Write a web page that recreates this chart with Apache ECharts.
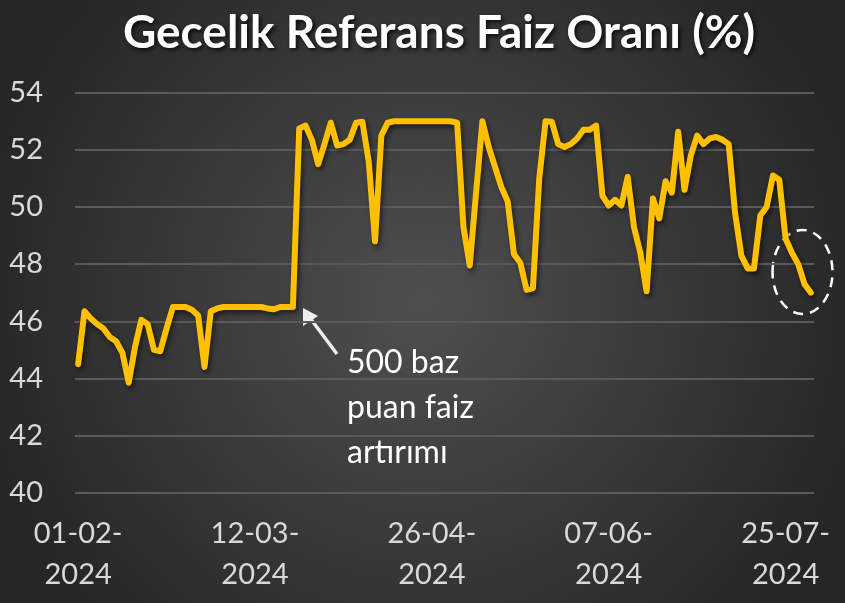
<!DOCTYPE html>
<html>
<head>
<meta charset="utf-8">
<script src="https://cdn.jsdelivr.net/npm/echarts@6/dist/echarts.min.js"></script>
<style>
html,body{margin:0;padding:0;background:#333;}
#c{width:845px;height:603px;}
</style>
</head>
<body>
<div id="c"></div>
<script>
// Categories: business days (dd-mm-yyyy)
const dates = [
 '01-02-2024','02-02-2024','05-02-2024','06-02-2024','07-02-2024','08-02-2024','09-02-2024','12-02-2024','13-02-2024','14-02-2024',
 '15-02-2024','16-02-2024','19-02-2024','20-02-2024','21-02-2024','22-02-2024','23-02-2024','26-02-2024','27-02-2024','28-02-2024',
 '29-02-2024','01-03-2024','04-03-2024','05-03-2024','06-03-2024','07-03-2024','08-03-2024','11-03-2024','12-03-2024','13-03-2024',
 '14-03-2024','15-03-2024','18-03-2024','19-03-2024','20-03-2024','21-03-2024','22-03-2024','25-03-2024','26-03-2024','27-03-2024',
 '28-03-2024','29-03-2024','01-04-2024','02-04-2024','03-04-2024','04-04-2024','05-04-2024','08-04-2024','15-04-2024','16-04-2024',
 '17-04-2024','18-04-2024','19-04-2024','22-04-2024','24-04-2024','25-04-2024','26-04-2024','29-04-2024','30-04-2024','03-05-2024',
 '06-05-2024','07-05-2024','08-05-2024','09-05-2024','10-05-2024','13-05-2024','14-05-2024','15-05-2024','16-05-2024','17-05-2024',
 '20-05-2024','21-05-2024','22-05-2024','23-05-2024','24-05-2024','27-05-2024','28-05-2024','29-05-2024','30-05-2024','31-05-2024',
 '03-06-2024','04-06-2024','05-06-2024','06-06-2024','07-06-2024','10-06-2024','11-06-2024','12-06-2024','13-06-2024','14-06-2024',
 '24-06-2024','25-06-2024','26-06-2024','27-06-2024','28-06-2024','01-07-2024','02-07-2024','03-07-2024','04-07-2024','05-07-2024',
 '08-07-2024','09-07-2024','10-07-2024','11-07-2024','12-07-2024','16-07-2024','17-07-2024','18-07-2024','19-07-2024','22-07-2024',
 '23-07-2024','24-07-2024','25-07-2024','26-07-2024','29-07-2024','30-07-2024','31-07-2024'
];

// Overnight reference rate (%)
const rates = [
 44.5, 46.35, 46.1, 45.9, 45.75, 45.45, 45.3, 44.9, 43.85, 45.1,
 46.05, 45.9, 45.0, 44.95, 45.75, 46.5, 46.5, 46.5, 46.4, 46.2,
 44.4, 46.35, 46.45, 46.5, 46.5, 46.5, 46.5, 46.5, 46.5, 46.5,
 46.45, 46.42, 46.5, 46.5, 46.5, 52.75, 52.85, 52.35, 51.5, 52.2,
 52.95, 52.15, 52.2, 52.35, 52.95, 52.98, 51.6, 48.8, 52.5, 52.95,
 53.0, 53.0, 53.0, 53.0, 53.0, 53.0, 53.0, 53.0, 53.0, 53.0,
 52.95, 49.3, 47.95, 50.5, 53.0, 52.1, 51.4, 50.7, 50.2, 48.35,
 48.05, 47.1, 47.15, 51.0, 53.0, 52.98, 52.2, 52.1, 52.2, 52.4,
 52.7, 52.7, 52.85, 50.4, 50.05, 50.25, 50.05, 51.05, 49.3, 48.4,
 47.05, 50.3, 49.6, 50.9, 50.5, 52.63, 50.6, 51.8, 52.5, 52.2,
 52.4, 52.45, 52.35, 52.2, 49.8, 48.3, 47.85, 47.85, 49.7, 50.0,
 51.1, 50.95, 48.9, 48.4, 48.0, 47.3, 47.0
];

const yMin = 40, yMax = 54, yStep = 2;
const titleText = 'Gecelik Referans Faiz Oranı (%)';
const noteLines = ['500 baz', 'puan faiz', 'artırımı'];

const chart = echarts.init(document.getElementById('c'), null, {renderer: 'canvas'});
const FONT = 'Lato, "Noto Sans", sans-serif';

chart.setOption({
  animation: false,
  backgroundColor: {
    type: 'radial', x: 0.5, y: 0.5, r: 0.75,
    colorStops: [{offset: 0, color: '#4f4f4f'}, {offset: 1, color: '#262626'}]
  },
  title: {
    text: titleText,
    left: 434, top: 5, textAlign: 'center',
    textStyle: {
      color: '#ffffff', fontFamily: FONT, fontWeight: 'bold', fontSize: 46,
      textShadowColor: 'rgba(0,0,0,0.8)', textShadowBlur: 4,
      textShadowOffsetX: 2, textShadowOffsetY: 2
    }
  },
  grid: {left: 75, right: 31, top: 92.7, bottom: 110.3, containLabel: false},
  xAxis: {
    type: 'category',
    data: dates,
    boundaryGap: true,
    axisLine: {show: false},
    axisTick: {show: false},
    axisLabel: {
      interval: 27,
      color: '#d9d9d9', fontFamily: FONT, fontSize: 29, lineHeight: 41, margin: 20,
      formatter: v => v.slice(0, 6) + '\n' + v.slice(6)
    },
    splitLine: {show: false}
  },
  yAxis: {
    type: 'value', min: yMin, max: yMax, interval: yStep,
    axisLine: {show: false}, axisTick: {show: false},
    axisLabel: {color: '#d9d9d9', fontFamily: FONT, fontSize: 29, margin: 32},
    splitLine: {lineStyle: {color: '#5a5a5a', width: 2}}
  },
  series: [{
    type: 'line',
    data: rates,
    showSymbol: false,
    symbol: 'none',
    lineStyle: {
      color: '#FFC000', width: 6, join: 'round', cap: 'round',
      shadowColor: 'rgba(0,0,0,0.55)', shadowBlur: 5, shadowOffsetX: 2, shadowOffsetY: 3
    },
    z: 3
  }],
  graphic: [
    {
      type: 'group',
      children: [
        {type: 'line', shape: {x1: 337, y1: 354, x2: 310, y2: 318},
         style: {stroke: '#eeeeee', lineWidth: 3.5}},
        {type: 'polygon', shape: {points: [[303, 308], [303, 326], [318, 316]]},
         style: {fill: '#eeeeee'}}
      ]
    },
    {
      type: 'text', left: 347, top: 340,
      style: {text: noteLines.join('\n'), fill: '#ffffff', font: '32px ' + FONT, lineHeight: 45}
    },
    {
      type: 'ellipse', shape: {cx: 802.5, cy: 272, rx: 30, ry: 42},
      style: {fill: 'none', stroke: '#ffffff', lineWidth: 2.5, lineDash: [10, 7]}
    }
  ]
});
</script>
</body>
</html>
